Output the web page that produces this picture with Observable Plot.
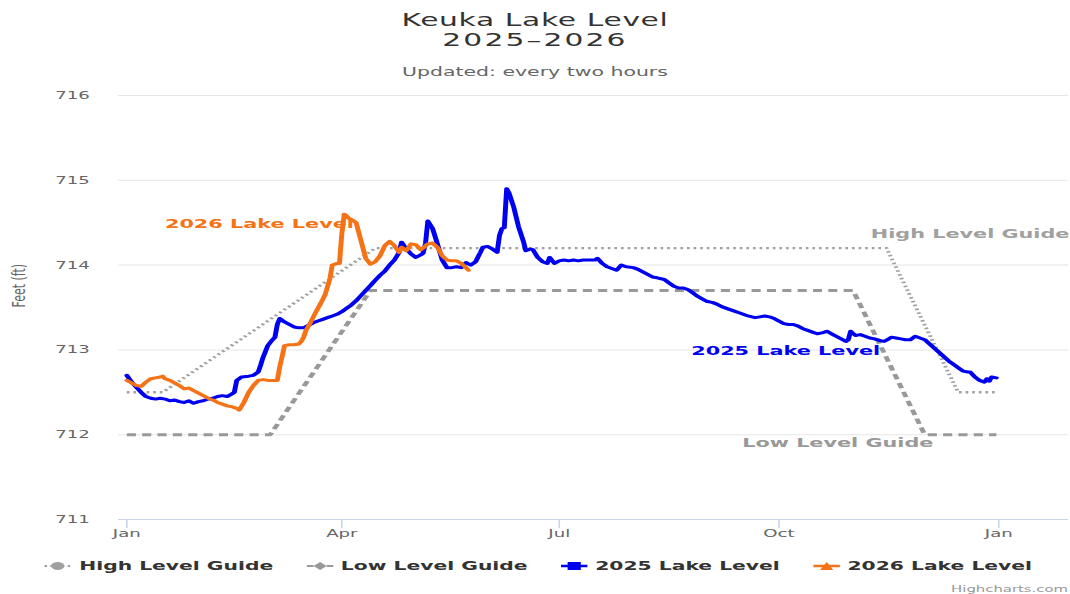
<!DOCTYPE html>
<html>
<head>
<meta charset="utf-8">
<script src="https://cdn.jsdelivr.net/npm/d3@7"></script>
<script src="https://cdn.jsdelivr.net/npm/@observablehq/plot@0.6"></script>
<style>
  html, body { margin: 0; padding: 0; background: #fff; overflow: hidden; }
  #page {
    position: relative; width: 648.48px; height: 594px;
    transform: scaleX(1.65); transform-origin: 0 0;
    font-family: "DejaVu Sans", sans-serif;
  }
  #title { position: absolute; top: 9.5px; left: 0; width: 100%; text-align: center;
    font-size: 18px; line-height: 20px; color: #333; }
  #title .l1 { letter-spacing: 0.4px; }
  #title .l2 { letter-spacing: 1.3px; }
  #subtitle { position: absolute; top: 64.5px; left: 0; width: 100%; text-align: center;
    font-size: 12.4px; line-height: 14px; color: #666; }
  #chart { position: absolute; top: 86px; left: 0; }
  #legend { position: absolute; top: 559px; left: 2px; width: 100%; display: flex;
    justify-content: center; gap: 20px; font-size: 12.3px; line-height: 14px;
    font-weight: bold; color: #333; }
  #legend .item { display: flex; align-items: center; gap: 5px; white-space: nowrap; }
  #legend svg { display: block; overflow: visible; }
  #credits { position: absolute; top: 584px; right: 1.2px; font-size: 9px; line-height: 10px; color: #999; }
</style>
</head>
<body>
<div id="page">
  <div id="title"><div class="l1">Keuka Lake Level</div><div class="l2">2025–2026</div></div>
  <div id="subtitle">Updated: every two hours</div>
  <div id="chart"></div>
  <div id="legend"></div>
  <div id="credits">Highcharts.com</div>
</div>
<script>
// ---- data (x = days since Jan 1 on a shared calendar-year axis) ----
const lake2025Days = [0,2,4,6,8,10,12,14,16,18,20,22,24,26,28,30,32,34,36,38,40,42,44,45,46,48,51,53,55,56,57,59,61,62,63,64,66,68,70,72,74,76,78,80,82,84,86,88,90,92,94,96,98,100,102,104,106,108,110,112,114,115,117,119,121,123,124,125,126,128,130,132,134,136,138,140,142,144,146,148,149,151,153,155,156,157,158,159,160,162,164,166,167,169,170,172,174,176,177,179,181,183,185,187,189,191,193,196,197,199,201,203,205,207,209,212,214,216,218,220,222,225,227,229,231,233,235,237,239,241,243,245,247,249,251,254,256,258,260,263,265,267,269,271,273,275,277,279,281,283,285,287,289,291,293,295,297,299,301,302,303,305,307,309,311,313,315,317,319,320,322,324,326,328,330,332,334,336,338,340,342,344,346,348,350,352,353,355,357,359,360,361,362,364];
const lake2025Levels = [712.70,712.62,712.56,712.50,712.45,712.43,712.42,712.43,712.42,712.40,712.41,712.39,712.38,712.40,712.37,712.39,712.40,712.42,712.43,712.45,712.46,712.45,712.48,712.50,712.64,712.68,712.69,712.70,712.74,712.82,712.91,713.05,713.12,713.15,713.30,713.37,713.33,713.30,713.27,713.26,713.26,713.29,713.32,713.34,713.36,713.38,713.40,713.42,713.45,713.49,713.53,713.58,713.64,713.70,713.76,713.82,713.88,713.93,714.00,714.06,714.15,714.27,714.19,714.13,714.09,714.12,714.14,714.25,714.52,714.43,714.25,714.06,713.97,713.97,713.98,713.97,714.03,714.00,714.04,714.15,714.21,714.22,714.19,714.15,714.35,714.43,714.44,714.90,714.85,714.68,714.45,714.28,714.17,714.19,714.18,714.09,714.04,714.02,714.09,714.02,714.05,714.06,714.05,714.06,714.05,714.06,714.06,714.06,714.08,714.02,713.98,713.96,713.94,714.00,713.98,713.97,713.95,713.92,713.89,713.86,713.85,713.83,713.79,713.75,713.73,713.73,713.71,713.67,713.63,713.60,713.57,713.56,713.54,713.51,713.49,713.46,713.44,713.42,713.40,713.38,713.39,713.40,713.39,713.37,713.34,713.31,713.30,713.30,713.28,713.25,713.23,713.21,713.19,713.20,713.22,713.19,713.16,713.13,713.10,713.12,713.22,713.17,713.18,713.16,713.14,713.13,713.11,713.10,713.13,713.15,713.14,713.13,713.12,713.12,713.16,713.14,713.12,713.07,713.02,712.97,712.92,712.87,712.83,712.79,712.75,712.74,712.74,712.68,712.64,712.62,712.66,712.63,712.68,712.67];

const lake2026Days = [0,2,4,6,8,10,12,14,15,16,18,20,22,24,26,28,30,32,34,36,38,40,42,44,46,47,49,51,53,55,57,59,61,63,64,65,66,68,70,72,73,74,75,77,79,81,83,85,86,88,89,90,91,92,93,95,96,98,100,102,104,106,108,110,112,114,115,117,119,121,123,124,126,128,130,132,134,136,138,140,142,143];
const lake2026Levels = [712.64,712.61,712.58,712.57,712.62,712.66,712.67,712.68,712.69,712.66,712.64,712.61,712.58,712.54,712.55,712.52,712.49,712.46,712.43,712.41,712.38,712.36,712.34,712.33,712.31,712.29,712.38,712.50,712.58,712.64,712.65,712.64,712.64,712.64,712.80,712.92,713.05,713.06,713.06,713.07,713.10,713.15,713.23,713.33,713.44,713.54,713.65,713.84,714.00,714.02,714.02,714.37,714.60,714.58,714.55,714.52,714.50,714.29,714.08,714.01,714.04,714.11,714.23,714.28,714.23,714.15,714.21,714.17,714.25,714.24,714.18,714.20,714.25,714.26,714.21,714.11,714.06,714.05,714.05,714.02,713.97,713.94];

const highGuideDays = [0, 15, 104, 318, 348, 364];
const highGuideLevels = [712.5, 712.5, 714.2, 714.2, 712.5, 712.5];
const lowGuideDays = [0, 60, 102, 304, 334, 364];
const lowGuideLevels = [712.0, 712.0, 713.7, 713.7, 712.0, 712.0];

const yTicks = [711, 712, 713, 714, 715, 716];
const xTickDays = [0, 90, 181, 273, 365];
const xTickLabels = ["Jan", "Apr", "Jul", "Oct", "Jan"];

const seriesNames = ["High Level Guide", "Low Level Guide", "2025 Lake Level", "2026 Lake Level"];
const seriesColors = ["#a0a0a0", "#999999", "#0000f0", "#f57316"];
const labelDays = [353, 297.6, 275.8, 55.5];
const labelLevels = [714.37, 711.90, 712.99, 714.49];

// ---- build ----
const base = Date.UTC(2025, 0, 1);
const toDate = d => new Date(base + d * 864e5);
const rows = (days, levels) => days.map((d, i) => ({date: toDate(d), level: levels[i]}));

const high = rows(highGuideDays, highGuideLevels);
const low = rows(lowGuideDays, lowGuideLevels);
const s2025 = rows(lake2025Days, lake2025Levels);
const s2026 = rows(lake2026Days, lake2026Levels);
const labels = seriesNames.map((n, i) => ({name: n, date: toDate(labelDays[i]), level: labelLevels[i], color: seriesColors[i]}));
const xTicks = xTickDays.map(toDate);
const tickLabel = new Map(xTicks.map((t, i) => [+t, xTickLabels[i]]));

const S = 1.65;
const chart = Plot.plot({
  width: 1070 / S,
  height: 459,
  marginTop: 9,
  marginBottom: 26,
  marginLeft: 118 / S,
  marginRight: 2 / S,
  style: {fontFamily: "DejaVu Sans, sans-serif", background: "transparent", overflow: "visible"},
  x: {type: "utc", domain: [toDate(-3.35), toDate(394.3)]},
  y: {domain: [711, 716]},
  marks: [
    Plot.gridY(yTicks, {stroke: "#e6e6e6", strokeOpacity: 1, strokeWidth: 1}),
    Plot.axisY(yTicks, {tickSize: 0, tickPadding: 17.6, fontSize: 11, fill: "#666", label: null,
      tickFormat: d => String(d)}),
    Plot.text(["Feet (ft)"], {frameAnchor: "left", rotate: -90, dx: 10.9 - 118 / S, fontSize: 11, fill: "#666"}),
    Plot.ruleY([711], {stroke: "#ccd6eb", strokeWidth: 1}),
    Plot.axisX(xTicks, {tickSize: 9, tickPadding: 1, stroke: "#ccd6eb", fill: "#666", fontSize: 11,
      tickFormat: d => tickLabel.get(+d), label: null}),
    Plot.line(high, {x: "date", y: "level", stroke: seriesColors[0], strokeWidth: 2.4,
      strokeDasharray: "1.6 2.4", strokeLinecap: "butt"}),
    Plot.line(low, {x: "date", y: "level", stroke: seriesColors[1], strokeWidth: 3,
      strokeDasharray: "5.5 3.8", strokeLinecap: "butt"}),
    Plot.line(s2025, {x: "date", y: "level", stroke: seriesColors[2], strokeWidth: 3, strokeLinejoin: "round"}),
    Plot.line(s2026, {x: "date", y: "level", stroke: seriesColors[3], strokeWidth: 3, strokeLinejoin: "round"}),
    Plot.text(labels, {x: "date", y: "level", text: "name", fill: "color", fontWeight: "bold", fontSize: 12.6})
  ]
});
document.getElementById("chart").appendChild(chart);

// ---- legend ----
const legend = document.getElementById("legend");
const symbols = [
  `<line x1="0" y1="6" x2="16" y2="6" stroke="${seriesColors[0]}" stroke-width="2" stroke-dasharray="1.5 2"/><circle cx="8" cy="6" r="4" fill="${seriesColors[0]}"/>`,
  `<line x1="0" y1="6" x2="16" y2="6" stroke="${seriesColors[1]}" stroke-width="2" stroke-dasharray="4 2"/><path d="M8 2 L12 6 L8 10 L4 6 Z" fill="${seriesColors[1]}"/>`,
  `<line x1="0" y1="6" x2="16" y2="6" stroke="${seriesColors[2]}" stroke-width="2.5"/><rect x="4" y="2" width="8" height="8" fill="${seriesColors[2]}"/>`,
  `<line x1="0" y1="6" x2="16" y2="6" stroke="${seriesColors[3]}" stroke-width="2.5"/><path d="M8 2 L12 10 L4 10 Z" fill="${seriesColors[3]}"/>`
];
seriesNames.forEach((n, i) => {
  const it = document.createElement("div");
  it.className = "item";
  it.innerHTML = `<svg width="16" height="12">${symbols[i]}</svg><span>${n}</span>`;
  legend.appendChild(it);
});
</script>
</body>
</html>
